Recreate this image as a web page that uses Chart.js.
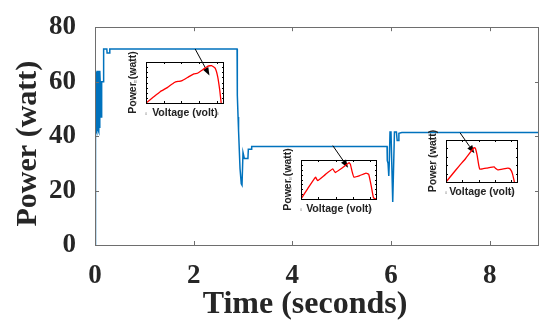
<!DOCTYPE html>
<html>
<head>
<meta charset="utf-8">
<script src="https://cdn.jsdelivr.net/npm/chart.js@4.4.1/dist/chart.umd.min.js"></script>
<style>
html, body { margin: 0; padding: 0; background: #fff; }
#wrap { position: relative; width: 540px; height: 326px; overflow: hidden; }
canvas { position: absolute; }
#main { left: 0; top: 0; }
#in1 { left: 124px; top: 46px; }
#in2 { left: 279px; top: 144px; }
#in3 { left: 424px; top: 124px; }
</style>
</head>
<body>
<div id="wrap">
  <canvas id="main" width="540" height="326"></canvas>
  <canvas id="in1" width="102" height="74"></canvas>
  <canvas id="in2" width="100" height="72"></canvas>
  <canvas id="in3" width="96" height="75"></canvas>
</div>
<script>
// main trace: time (s) vs power (W)
const timeS = [
  0, 0.003, 0.01, 0.017, 0.024, 0.031, 0.038, 0.045, 0.052, 0.059, 0.066, 0.073, 0.08, 0.087, 0.094, 0.1,
  0.105, 0.115, 0.12, 0.13, 0.135, 0.165, 0.175, 0.24, 0.245, 0.29, 0.3,
  2.88, 2.885, 2.9, 2.91, 2.94, 2.965, 2.98, 3.0, 3.01, 3.027, 3.1, 3.108, 3.17, 3.176,
  5.92, 5.925, 5.94, 5.955, 5.965, 5.98, 6.0, 6.035, 6.07, 6.11, 6.125, 6.145, 6.16, 6.22, 9
];
const powerW = [
  0, 64, 41.5, 64, 42, 63.5, 41.5, 64, 42, 63, 42, 64, 41.5, 63, 43, 64,
  60, 60, 47, 47, 60, 60, 72, 72, 70.5, 70.5, 72,
  72, 55, 47, 42, 28, 22.5, 22, 34, 34, 31.8, 31.8, 35.2, 35.2, 36.2,
  36.2, 31, 30, 25.4, 30, 41.5, 41.5, 15.8, 41.5, 41.5, 38.4, 38.4, 41, 41.3, 41.3
];
const xTicks = [0, 2, 4, 6, 8];
const yTicks = [0, 20, 40, 60, 80];

// P-V curves in the insets
const volt1 = [0, 2, 4, 6, 8, 9, 10, 12, 13.5, 14.5, 16, 17.5, 18.5, 19.5, 20.2, 20.8, 21.2];
const pow1  = [0, 11, 22, 30, 40, 42, 43, 51, 57, 58, 65, 72, 73, 68, 52, 25, 0];
const volt2 = [0, 2, 4.2, 4.8, 7, 9.2, 9.9, 12, 13.9, 14.3, 14.8, 15.3, 17, 18.8, 19.6, 20.3, 21, 21.8];
const pow2  = [0, 11, 22.4, 18.8, 25, 30.8, 27.2, 32, 37.2, 35.5, 28, 22.5, 24, 26.5, 25.5, 14, 1, 0];
const volt3 = [0, 2, 4, 6, 8.6, 9.0, 9.5, 10.0, 10.3, 11, 12.5, 14.7, 15.2, 15.8, 18, 18.9, 19.6, 20.3, 20.9];
const pow3  = [0, 9.5, 19, 28, 41, 40, 32, 20, 15.5, 15.5, 16.5, 18, 16, 14.5, 16, 16.5, 15.5, 10, 0];

// arrows from the trace down to each MPP (time, power)
const arrowFrom = [[2.03, 72], [4.82, 36.5], [7.40, 41.2]];
const arrowTo   = [[2.32, 62.3], [5.13, 28.4], [7.69, 33.7]];

const toXY = (xs, ys) => xs.map((x, i) => ({ x: x, y: ys[i] }));

// box with inward ticks, MATLAB style
function framePlugin(color, tickLen, xt, yt) {
  return {
    id: 'frame',
    afterDatasetsDraw(chart) {
      const { ctx, chartArea: a, scales } = chart;
      ctx.save();
      ctx.strokeStyle = color;
      ctx.lineWidth = 1;
      ctx.strokeRect(Math.round(a.left) + 0.5, Math.round(a.top) + 0.5,
        Math.round(a.right - a.left) - 1, Math.round(a.bottom - a.top));
      ctx.beginPath();
      xt.forEach(v => {
        const px = Math.round(scales.x.getPixelForValue(v)) + 0.5;
        ctx.moveTo(px, a.bottom); ctx.lineTo(px, a.bottom - tickLen);
        ctx.moveTo(px, a.top); ctx.lineTo(px, a.top + tickLen);
      });
      yt.forEach(v => {
        const py = Math.round(scales.y.getPixelForValue(v)) + 0.5;
        ctx.moveTo(a.left, py); ctx.lineTo(a.left + tickLen, py);
        ctx.moveTo(a.right, py); ctx.lineTo(a.right - tickLen, py);
      });
      ctx.stroke();
      ctx.restore();
    }
  };
}

const arrowPlugin = {
  id: 'arrows',
  afterDraw(chart) {
    const { ctx, scales } = chart;
    ctx.save();
    ctx.strokeStyle = '#000';
    ctx.fillStyle = '#000';
    ctx.lineWidth = 1;
    arrowFrom.forEach((f, i) => {
      const x0 = scales.x.getPixelForValue(f[0]), y0 = scales.y.getPixelForValue(f[1]);
      const x1 = scales.x.getPixelForValue(arrowTo[i][0]), y1 = scales.y.getPixelForValue(arrowTo[i][1]);
      const ang = Math.atan2(y1 - y0, x1 - x0);
      const hl = 8, hw = 3;
      const bx = x1 - hl * Math.cos(ang), by = y1 - hl * Math.sin(ang);
      ctx.beginPath();
      ctx.moveTo(x0, y0); ctx.lineTo(bx, by);
      ctx.stroke();
      ctx.beginPath();
      ctx.moveTo(x1, y1);
      ctx.lineTo(bx + hw * Math.sin(ang), by - hw * Math.cos(ang));
      ctx.lineTo(bx - hw * Math.sin(ang), by + hw * Math.cos(ang));
      ctx.closePath();
      ctx.fill();
    });
    ctx.restore();
  }
};

const serif = 'Liberation Serif, Times New Roman, serif';
const sans = 'Liberation Sans, Arial, sans-serif';

new Chart(document.getElementById('main'), {
  type: 'line',
  data: {
    datasets: [{
      data: toXY(timeS, powerW),
      borderColor: '#0072BD',
      borderWidth: 1.5,
      pointRadius: 0,
      tension: 0
    }]
  },
  options: {
    responsive: false,
    animation: false,
    layout: { padding: { left: 0, top: 14, right: 1, bottom: 0 } },
    plugins: { legend: { display: false }, tooltip: { enabled: false } },
    scales: {
      x: {
        type: 'linear', min: 0, max: 9,
        grid: { display: false },
        border: { display: false },
        afterFit: s => { s.height = 81; },
        ticks: {
          stepSize: 2, includeBounds: false, padding: 7,
          color: '#262626', font: { family: serif, size: 27, weight: 'bold' }
        },
        title: {
          display: true, text: 'Time (seconds)   ', color: '#262626',
          font: { family: serif, size: 32, weight: 'bold' },
          padding: { top: 0, bottom: 2 }
        }
      },
      y: {
        type: 'linear', min: 0, max: 80,
        grid: { display: false },
        border: { display: false },
        afterFit: s => { s.width = 95; },
        ticks: {
          stepSize: 20, padding: 11,
          color: '#262626', font: { family: serif, size: 27, weight: 'bold' }
        },
        title: {
          display: true, text: 'Power (watt)  ', color: '#262626',
          font: { family: serif, size: 30, weight: 'bold' },
          padding: { top: 10, bottom: 0 }
        }
      }
    }
  },
  plugins: [framePlugin('#6e6e6e', 4, xTicks, yTicks), arrowPlugin]
});

function makeInset(id, volt, pow, yMax, yStep) {
  const yt = [];
  for (let v = 0; v <= yMax; v += yStep) yt.push(v);
  new Chart(document.getElementById(id), {
    type: 'line',
    data: {
      datasets: [{
        data: toXY(volt, pow),
        borderColor: '#ff0000',
        borderWidth: 1.3,
        pointRadius: 0,
        tension: 0.1
      }]
    },
    options: {
      responsive: false,
      animation: false,
      layout: { padding: { left: 0, top: 16, right: 2, bottom: 0 } },
      plugins: { legend: { display: false }, tooltip: { enabled: false } },
      scales: {
        x: {
          type: 'linear', min: 0, max: 22,
          grid: { display: false }, border: { display: false },
          afterFit: s => { s.height = 17; },
          ticks: { stepSize: 5, includeBounds: false, padding: 1, color: '#666', font: { family: sans, size: 3 } },
          title: {
            display: true, text: 'Voltage (volt)', color: '#222',
            font: { family: sans, size: 10.5, weight: 'bold', lineHeight: 1.2 },
            padding: { top: 0, bottom: 1 }
          }
        },
        y: {
          type: 'linear', min: 0, max: yMax,
          grid: { display: false }, border: { display: false },
          afterFit: s => { s.width = 22; },
          ticks: { stepSize: yStep, padding: 1, color: '#666', font: { family: sans, size: 3 } },
          title: {
            display: true, text: 'Power (watt)', color: '#222',
            font: { family: sans, size: 10.5, weight: 'bold', lineHeight: 1.2 },
            padding: { top: 3, bottom: 0 }
          }
        }
      }
    },
    plugins: [framePlugin('#000', 2, [0, 5, 10, 15, 20], yt)]
  });
}

makeInset('in1', volt1, pow1, 80, 10);
makeInset('in2', volt2, pow2, 40, 5);
makeInset('in3', volt3, pow3, 50, 10);
</script>
</body>
</html>
